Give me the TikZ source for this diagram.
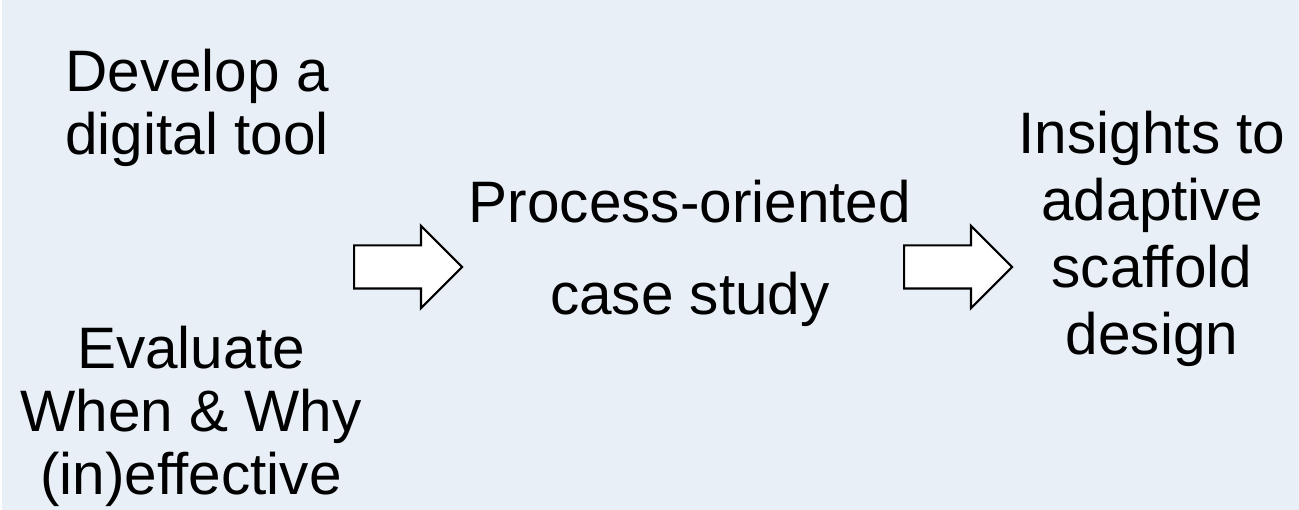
\documentclass[tikz,border=0pt]{standalone}
\usepackage{fontspec}
\setmainfont{Liberation Sans}
\usetikzlibrary{shapes.arrows}
\definecolor{bgblue}{RGB}{232,239,247}

\begin{document}
\begin{tikzpicture}[x=1pt,y=-1pt,semithick,inner sep=0pt]
		\tikzstyle{every node}=[text=black]
		\tikzstyle{txt}=[font=\fontsize{58.5}{63}\selectfont,align=center,anchor=base]
		\tikzstyle{blk}=[single arrow,draw=black,fill=white,line width=2.2pt,
			text height=20.5pt,text depth=20.5pt,minimum height=108pt,
			single arrow head extend=19.5pt,anchor=tail]

		\useasboundingbox (0,0) rectangle (1299,510);
		\fill[bgblue] (2,0) rectangle (1299,510);

		% anchor base sits on the last line
		\node[txt]	(dev)	at (197,155)	{Develop a\\digital tool};
		\node[txt]	(eval)	at (191,494)	{Evaluate\\When \& Why\\(in)effective};
		\node[txt,font=\fontsize{58.5}{92}\selectfont]
					(case)	at (690,315)	{Process-oriented\\case study};
		\node[txt,font=\fontsize{58.5}{67}\selectfont]
					(ins)	at (1152,355)	{Insights to\\adaptive\\scaffold\\design};

		\node[blk]	(a1)	at (353,267)	{};
		\node[blk]	(a2)	at (903,267)	{};
\end{tikzpicture}
\end{document}
